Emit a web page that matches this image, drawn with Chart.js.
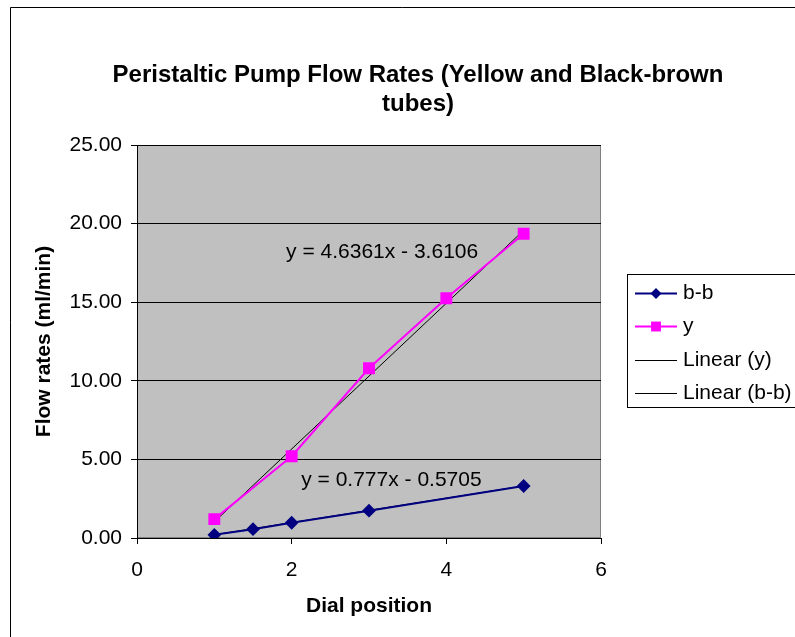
<!DOCTYPE html>
<html>
<head>
<meta charset="utf-8">
<script src="https://cdn.jsdelivr.net/npm/chart.js@4.4.0/dist/chart.umd.min.js"></script>
<style>
  html, body { margin: 0; padding: 0; background: #fff; }
</style>
</head>
<body>
<canvas id="pumpChart" width="795" height="637"></canvas>
<script>
// dial setting vs measured flow, one pair of arrays per tube
const bbDial = [1, 1.5, 2, 3, 5];
const bbFlow = [0.2, 0.56, 0.97, 1.74, 3.31];
const yDial = [1, 2, 3, 4, 5];
const yFlow = [1.2, 5.2, 10.8, 15.25, 19.35];

// least squares fits as reported by the spreadsheet
const fitNames = ['y', 'b-b'];
const fitSlope = [4.6361, 0.777];
const fitIntercept = [-3.6106, -0.5705];

const xTicks = [0, 2, 4, 6];
const yTicks = [0, 5, 10, 15, 20, 25];

const FONT = "'Liberation Sans', Arial, sans-serif";

function toPoints(xs, ys) {
    return xs.map((x, i) => ({ x: x, y: ys[i] }));
}

function fitLine(k, xs) {
    const lo = Math.min(...xs), hi = Math.max(...xs);
    return [
        { x: lo, y: fitSlope[k] * lo + fitIntercept[k] },
        { x: hi, y: fitSlope[k] * hi + fitIntercept[k] }
    ];
}

function eqText(k) {
    const b = fitIntercept[k];
    return 'y = ' + fitSlope[k] + 'x ' + (b < 0 ? '- ' : '+ ') + Math.abs(b);
}

const datasets = [
    {
        label: 'b-b',
        data: toPoints(bbDial, bbFlow),
        borderColor: '#000080',
        backgroundColor: '#000080',
        borderWidth: 2,
        pointStyle: 'rectRot',
        pointRadius: 5.5,
        showLine: true
    },
    {
        label: 'y',
        data: toPoints(yDial, yFlow),
        borderColor: '#ff00ff',
        backgroundColor: '#ff00ff',
        borderWidth: 2,
        pointStyle: 'rect',
        pointRadius: 7,
        showLine: true
    },
    {
        label: 'Linear (y)',
        data: fitLine(0, yDial),
        borderColor: '#000',
        borderWidth: 1,
        pointRadius: 0,
        showLine: true
    },
    {
        label: 'Linear (b-b)',
        data: fitLine(1, bbDial),
        borderColor: '#000',
        borderWidth: 1,
        pointRadius: 0,
        showLine: true
    }
];

// frame, grey plot area, title, equations and the boxed legend
const excelLook = {
    id: 'excelLook',
    beforeDraw(chart) {
        const { ctx, chartArea: a, width, height } = chart;
        ctx.save();
        ctx.fillStyle = '#fff';
        ctx.fillRect(0, 0, width, height);
        ctx.strokeStyle = '#000';
        ctx.lineWidth = 1;
        ctx.beginPath();
        ctx.moveTo(10.5, height);
        ctx.lineTo(10.5, 7.5);
        ctx.lineTo(width, 7.5);
        ctx.stroke();
        ctx.fillStyle = '#c0c0c0';
        ctx.fillRect(a.left, a.top, a.right - a.left, a.bottom - a.top);
        ctx.strokeStyle = '#808080';
        ctx.strokeRect(a.left + 0.5, a.top + 0.5, a.right - a.left - 1, a.bottom - a.top - 1);
        ctx.restore();
    },
    afterDatasetsDraw(chart) {
        const { ctx, scales } = chart;
        const spots = [[3.17, 18.2], [3.29, 3.7]];
        ctx.save();
        ctx.fillStyle = '#000';
        ctx.font = '21px ' + FONT;
        ctx.textAlign = 'center';
        ctx.textBaseline = 'middle';
        spots.forEach((s, k) => {
            ctx.fillText(eqText(k), scales.x.getPixelForValue(s[0]), scales.y.getPixelForValue(s[1]));
        });
        ctx.restore();
    },
    afterDraw(chart) {
        const { ctx, width } = chart;
        ctx.save();
        ctx.fillStyle = '#000';
        ctx.textAlign = 'center';
        ctx.textBaseline = 'middle';
        ctx.font = 'bold 24px ' + FONT;
        ctx.fillText('Peristaltic Pump Flow Rates (Yellow and Black-brown', 418, 75);
        ctx.fillText('tubes)', 418, 104);

        // legend
        ctx.strokeStyle = '#000';
        ctx.lineWidth = 1;
        ctx.strokeRect(627.5, 274.5, width, 133);
        ctx.font = '21px ' + FONT;
        ctx.textAlign = 'left';
        const rows = [293, 326, 360, 393];
        chart.data.datasets.forEach((ds, i) => {
            const y = rows[i] + 0.5;
            ctx.strokeStyle = ds.borderColor;
            ctx.lineWidth = ds.borderWidth;
            ctx.beginPath();
            ctx.moveTo(635, y);
            ctx.lineTo(677, y);
            ctx.stroke();
            if (ds.pointRadius > 0) {
                ctx.fillStyle = ds.backgroundColor;
                Chart.helpers.drawPoint(ctx, {
                    pointStyle: ds.pointStyle,
                    radius: ds.pointRadius,
                    borderWidth: 0
                }, 656, y);
            }
            ctx.fillStyle = '#000';
            ctx.fillText(ds.label, 683, rows[i]);
        });
        ctx.restore();
    }
};

new Chart(document.getElementById('pumpChart'), {
    type: 'scatter',
    data: { datasets: datasets },
    plugins: [excelLook],
    options: {
        responsive: false,
        animation: false,
        layout: { padding: { top: 145, right: 194, left: 0, bottom: 0 } },
        plugins: {
            legend: { display: false },
            title: { display: false },
            tooltip: { enabled: false }
        },
        scales: {
            x: {
                type: 'linear',
                min: 0,
                max: 6,
                afterFit: s => { s.height = 99; },
                afterBuildTicks: s => { s.ticks = xTicks.map(v => ({ value: v })); },
                ticks: {
                    color: '#000',
                    padding: 14,
                    font: { family: FONT, size: 21 }
                },
                grid: { drawOnChartArea: false, color: '#000', tickLength: 6 },
                border: { color: '#000' },
                title: {
                    display: true,
                    text: 'Dial position',
                    color: '#000',
                    font: { family: FONT, size: 21, weight: 'bold' },
                    padding: { top: 0, bottom: 18 }
                }
            },
            y: {
                type: 'linear',
                min: 0,
                max: 25,
                afterFit: s => { s.width = 137; },
                afterBuildTicks: s => { s.ticks = yTicks.map(v => ({ value: v })); },
                ticks: {
                    color: '#000',
                    padding: 9,
                    font: { family: FONT, size: 21 },
                    callback: v => v.toFixed(2)
                },
                grid: { color: '#000', tickLength: 6 },
                border: { color: '#000' },
                title: {
                    display: true,
                    text: 'Flow rates (ml/min)',
                    color: '#000',
                    font: { family: FONT, size: 21, weight: 'bold' },
                    padding: { top: 32, bottom: 0 }
                }
            }
        }
    }
});
</script>
</body>
</html>
